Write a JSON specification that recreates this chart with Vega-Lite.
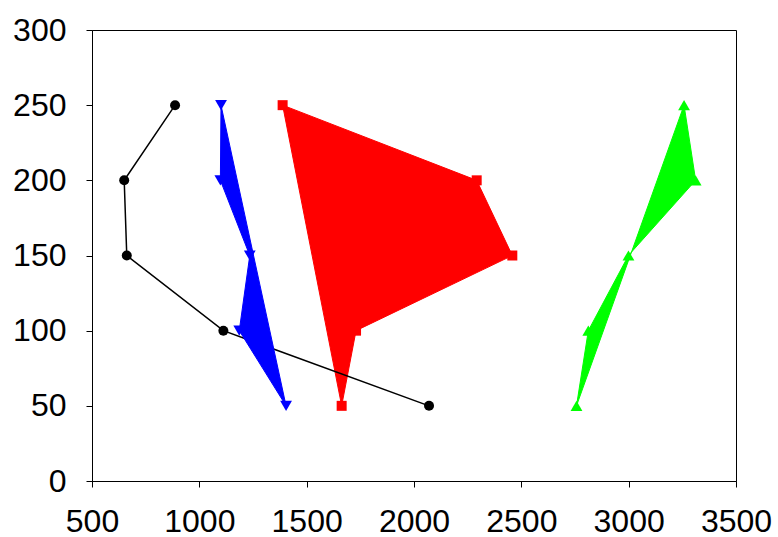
{
  "$schema": "https://vega.github.io/schema/vega-lite/v6.json",
  "width": 644,
  "height": 451,
  "autosize": "none",
  "padding": {"left": 92, "top": 30, "right": 42, "bottom": 56},
  "background": "white",
  "config": {
    "font": "Liberation Sans",
    "view": {"stroke": "black", "strokeWidth": 1},
    "axis": {
      "grid": false,
      "domainColor": "black",
      "domainWidth": 1,
      "tickColor": "black",
      "tickSize": 6,
      "labelColor": "black",
      "labelFont": "Liberation Sans",
      "labelFontSize": 32,
      "title": null,
      "format": "d"
    }
  },
  "data": {
    "values": [
      {"series": "A", "i": 0, "x": 887, "y": 250},
      {"series": "A", "i": 1, "x": 650, "y": 200},
      {"series": "A", "i": 2, "x": 662, "y": 150},
      {"series": "A", "i": 3, "x": 1112, "y": 100},
      {"series": "A", "i": 4, "x": 2070, "y": 50},
      {"series": "B", "i": 0, "x": 1101, "y": 250},
      {"series": "B", "i": 1, "x": 1098, "y": 200},
      {"series": "B", "i": 2, "x": 1235, "y": 150},
      {"series": "B", "i": 3, "x": 1186, "y": 100},
      {"series": "B", "i": 4, "x": 1404, "y": 50},
      {"series": "C", "i": 0, "x": 1388, "y": 250},
      {"series": "C", "i": 1, "x": 2292, "y": 200},
      {"series": "C", "i": 2, "x": 2458, "y": 150},
      {"series": "C", "i": 3, "x": 1730, "y": 100},
      {"series": "C", "i": 4, "x": 1663, "y": 50},
      {"series": "D", "i": 0, "x": 3258, "y": 250},
      {"series": "D", "i": 1, "x": 3312, "y": 200},
      {"series": "D", "i": 2, "x": 2999, "y": 150},
      {"series": "D", "i": 3, "x": 2812, "y": 100},
      {"series": "D", "i": 4, "x": 2757, "y": 50}
    ]
  },
  "encoding": {
    "x": {
      "field": "x", "type": "quantitative",
      "scale": {"domain": [500, 3500], "nice": false, "zero": false},
      "axis": {"values": [500, 1000, 1500, 2000, 2500, 3000, 3500], "labelPadding": 19, "labelFlush": false}
    },
    "y": {
      "field": "y", "type": "quantitative",
      "scale": {"domain": [0, 300], "nice": false},
      "axis": {"values": [0, 50, 100, 150, 200, 250, 300], "labelPadding": 20, "labelFlush": false}
    },
    "order": {"field": "i", "type": "quantitative"}
  },
  "layer": [
    {
      "transform": [{"filter": "datum.series === 'C'"}],
      "mark": {"type": "line", "interpolate": "linear-closed", "stroke": "#ff0000", "fill": "#ff0000", "strokeWidth": 1}
    },
    {
      "transform": [{"filter": "datum.series === 'C'"}],
      "mark": {"type": "point", "shape": "square", "filled": true, "color": "#ff0000", "size": 100, "opacity": 1}
    },
    {
      "transform": [{"filter": "datum.series === 'A'"}],
      "mark": {"type": "line", "stroke": "black", "strokeWidth": 1.5}
    },
    {
      "transform": [{"filter": "datum.series === 'A'"}],
      "mark": {"type": "point", "shape": "circle", "filled": true, "color": "black", "size": 100, "opacity": 1}
    },
    {
      "transform": [{"filter": "datum.series === 'B'"}],
      "mark": {"type": "line", "interpolate": "linear-closed", "stroke": "#0000ff", "fill": "#0000ff", "strokeWidth": 1}
    },
    {
      "transform": [{"filter": "datum.series === 'B'"}],
      "mark": {"type": "point", "shape": "triangle-down", "filled": true, "color": "#0000ff", "size": 140, "opacity": 1}
    },
    {
      "transform": [{"filter": "datum.series === 'D'"}],
      "mark": {"type": "line", "interpolate": "linear-closed", "stroke": "#00ff00", "fill": "#00ff00", "strokeWidth": 1}
    },
    {
      "transform": [{"filter": "datum.series === 'D'"}],
      "mark": {"type": "point", "shape": "triangle-up", "filled": true, "color": "#00ff00", "size": 140, "opacity": 1}
    }
  ]
}
